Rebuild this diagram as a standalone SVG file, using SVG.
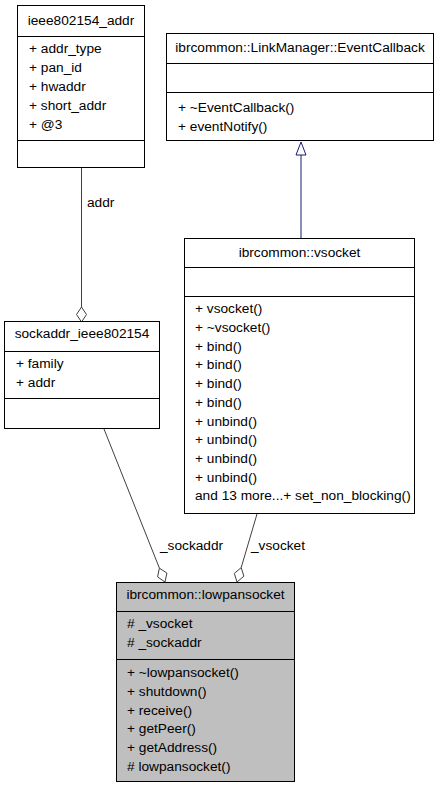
<svg xmlns="http://www.w3.org/2000/svg" width="440" height="789" viewBox="0 0 440 789">
<style>
text{font-family:"Liberation Sans",Arial,Helvetica,sans-serif;font-size:13.7px;fill:#000}
.t{text-anchor:middle}
.box{fill:#fff;stroke:#000;stroke-width:1}
.hl{fill:#bfbfbf;stroke:#000;stroke-width:1}
.div{stroke:#000;stroke-width:1}
.use{stroke:#404040;stroke-width:1;fill:none}
.usd{stroke:#404040;stroke-width:1;fill:#fff}
.inh{stroke:#191970;stroke-width:1;fill:none}
.inha{stroke:#191970;stroke-width:1;fill:#fff}
</style>
<rect width="440" height="789" fill="#fff"/>
<g id="connectors">
<line class="use" x1="81.5" y1="168" x2="81.5" y2="307"/>
<polygon class="usd" points="81.5,322 86.5,314.5 81.5,307 76.5,314.5"/>
<text x="87" y="207">addr</text>
<line class="inh" x1="301" y1="238" x2="301" y2="155"/>
<polygon class="inha" points="301,142 306,155 296,155"/>
<line class="use" x1="104" y1="429" x2="159.4" y2="568.1"/>
<polygon class="usd" points="165,582 166.9,573.1 159.4,568.1 157.6,576.9"/>
<text x="160" y="550">_sockaddr</text>
<line class="use" x1="257" y1="514" x2="241.2" y2="567.6"/>
<polygon class="usd" points="237,582 243.9,576.2 241.2,567.6 234.3,573.4"/>
<text x="251" y="550">_vsocket</text>
</g>
<g id="ieee802154_addr">
<rect class="box" x="17.5" y="5.5" width="127" height="162"/>
<line class="div" x1="17.5" y1="36.5" x2="144.5" y2="36.5"/>
<line class="div" x1="17.5" y1="140.5" x2="144.5" y2="140.5"/>
<text class="t" x="81" y="25">ieee802154_addr</text>
<text x="29" y="53">+ addr_type</text>
<text x="29" y="72">+ pan_id</text>
<text x="29" y="91">+ hwaddr</text>
<text x="29" y="110">+ short_addr</text>
<text x="29" y="129">+ @3</text>
</g>
<g id="EventCallback">
<rect class="box" x="166.5" y="33.5" width="267" height="107"/>
<line class="div" x1="166.5" y1="63.5" x2="433.5" y2="63.5"/>
<line class="div" x1="166.5" y1="92.5" x2="433.5" y2="92.5"/>
<text class="t" x="300" y="52">ibrcommon::LinkManager::EventCallback</text>
<text x="178" y="111.5">+ ~EventCallback()</text>
<text x="178" y="130.5">+ eventNotify()</text>
</g>
<g id="sockaddr_ieee802154">
<rect class="box" x="4.5" y="321.5" width="155" height="107"/>
<line class="div" x1="4.5" y1="351.5" x2="159.5" y2="351.5"/>
<line class="div" x1="4.5" y1="398.5" x2="159.5" y2="398.5"/>
<text class="t" x="82" y="338">sockaddr_ieee802154</text>
<text x="16" y="368">+ family</text>
<text x="16" y="387">+ addr</text>
</g>
<g id="vsocket">
<rect class="box" x="184.5" y="238.5" width="230" height="275"/>
<line class="div" x1="184.5" y1="267.5" x2="414.5" y2="267.5"/>
<line class="div" x1="184.5" y1="296.5" x2="414.5" y2="296.5"/>
<text class="t" x="299.5" y="257">ibrcommon::vsocket</text>
<text x="195" y="313.3">+ vsocket()</text>
<text x="195" y="332">+ ~vsocket()</text>
<text x="195" y="350.7">+ bind()</text>
<text x="195" y="369.4">+ bind()</text>
<text x="195" y="388.1">+ bind()</text>
<text x="195" y="406.8">+ bind()</text>
<text x="195" y="425.5">+ unbind()</text>
<text x="195" y="444.2">+ unbind()</text>
<text x="195" y="462.9">+ unbind()</text>
<text x="195" y="481.6">+ unbind()</text>
<text x="195" y="500.3">and 13 more...+ set_non_blocking()</text>
</g>
<g id="lowpansocket">
<rect class="hl" x="116.5" y="582.5" width="178" height="199"/>
<line class="div" x1="116.5" y1="611.5" x2="294.5" y2="611.5"/>
<line class="div" x1="116.5" y1="659.5" x2="294.5" y2="659.5"/>
<text class="t" x="205.5" y="599">ibrcommon::lowpansocket</text>
<text x="127" y="628"># _vsocket</text>
<text x="127" y="647"># _sockaddr</text>
<text x="127" y="677">+ ~lowpansocket()</text>
<text x="127" y="695.8">+ shutdown()</text>
<text x="127" y="714.6">+ receive()</text>
<text x="127" y="733.4">+ getPeer()</text>
<text x="127" y="752.2">+ getAddress()</text>
<text x="127" y="771"># lowpansocket()</text>
</g>
</svg>
